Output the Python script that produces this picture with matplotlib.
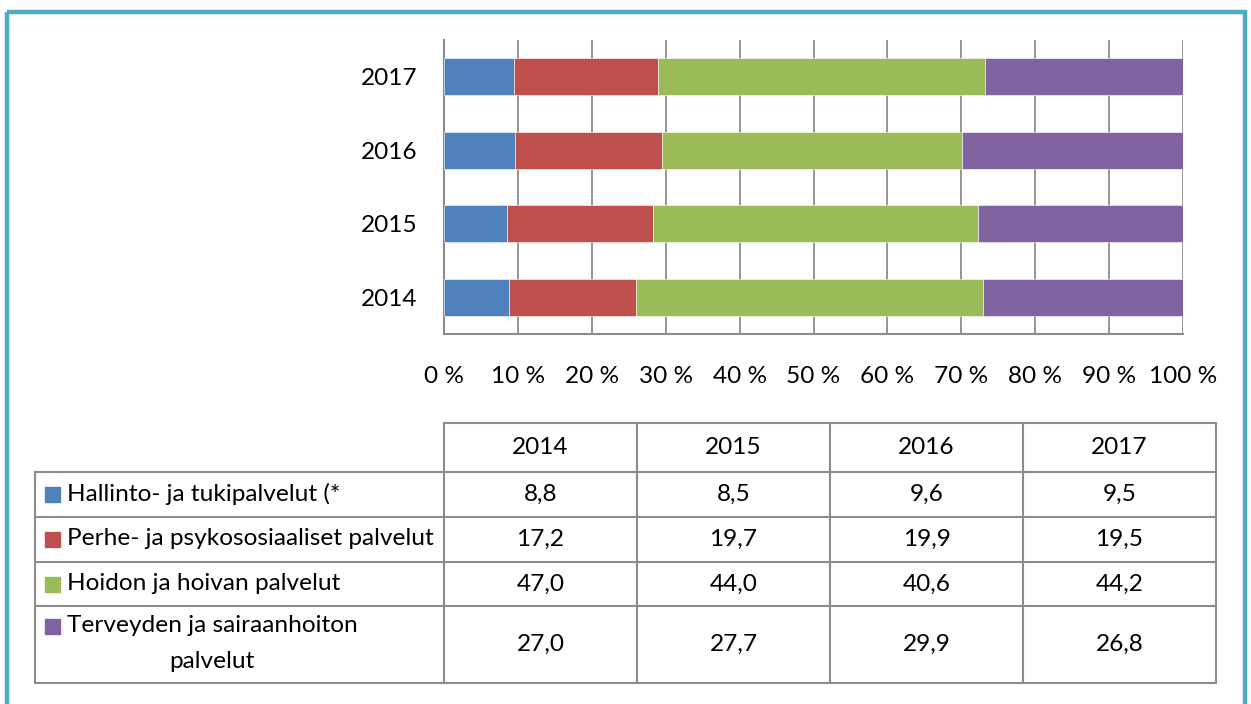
import numpy as np
import matplotlib.pyplot as plt
from matplotlib.patches import Rectangle

# Data
years = ['2014', '2015', '2016', '2017']
series = ['Hallinto- ja tukipalvelut (*',
          'Perhe- ja psykososiaaliset palvelut',
          'Hoidon ja hoivan palvelut',
          'Terveyden ja sairaanhoiton\npalvelut']
hallinto = [8.8, 8.5, 9.6, 9.5]
perhe = [17.2, 19.7, 19.9, 19.5]
hoidon = [47.0, 44.0, 40.6, 44.2]
terveys = [27.0, 27.7, 29.9, 26.8]
colors = ['#4F81BD', '#C0504D', '#9BBB59', '#8064A2']

plt.rcParams['font.family'] = ['Lato', 'DejaVu Sans']
FS = 17.6

W, H = 1251, 704
fig = plt.figure(figsize=(W / 100, H / 100), dpi=100)

# background axes in pixel coordinates (frame + table)
bg = fig.add_axes([0, 0, 1, 1])
bg.set_xlim(0, W)
bg.set_ylim(H, 0)
bg.axis('off')
bg.add_patch(Rectangle((7, 12), 1238, 720, fill=False, edgecolor='#4BACC6', linewidth=3.2))

# bar chart
ax = fig.add_axes([444 / W, 1 - 334 / H, (1183 - 444) / W, (334 - 40) / H])
data = np.array([hallinto, perhe, hoidon, terveys])
pct = data / data.sum(axis=0) * 100
y = np.arange(len(years))
left = np.zeros(len(years))
for vals, c in zip(pct, colors):
    ax.barh(y, vals, left=left, height=0.5, color=c, edgecolor='white', linewidth=0.4, zorder=3)
    left += vals
ax.set_xlim(0, 100)
ax.set_ylim(-0.5, len(years) - 0.5)
ax.set_xticks(np.arange(0, 101, 10))
ax.set_xticklabels(['%d %%' % v for v in range(0, 101, 10)], fontsize=FS)
ax.set_yticks(y)
ax.set_yticklabels(years, fontsize=FS)
ax.tick_params(axis='x', length=0, pad=23)
ax.tick_params(axis='y', length=0, pad=19)
ax.grid(axis='x', color='#8C8C8C', linewidth=1.3, zorder=0)
for s in ['top', 'right']:
    ax.spines[s].set_visible(False)
for s in ['left', 'bottom']:
    ax.spines[s].set_color('#8C8C8C')
    ax.spines[s].set_linewidth(1.5)

# data table
col_x = [35, 444, 637, 830, 1023, 1216]
row_y = [423, 472, 517, 562, 606, 683]
lc = '#8C8C8C'
lw = 1.5
# header row (no label cell)
bg.plot([col_x[1], col_x[-1]], [row_y[0], row_y[0]], color=lc, lw=lw)
for yy in row_y[1:]:
    bg.plot([col_x[0], col_x[-1]], [yy, yy], color=lc, lw=lw)
bg.plot([col_x[0], col_x[0]], [row_y[1], row_y[-1]], color=lc, lw=lw)
for xx in col_x[1:]:
    bg.plot([xx, xx], [row_y[0], row_y[-1]], color=lc, lw=lw)

for j, yr in enumerate(years):
    cx = (col_x[j + 1] + col_x[j + 2]) / 2
    bg.text(cx, (row_y[0] + row_y[1]) / 2, yr, ha='center', va='center', fontsize=FS)

for i, (name, vals, c) in enumerate(zip(series, data, colors)):
    cy = (row_y[i + 1] + row_y[i + 2]) / 2
    sy = cy - 18 if '\n' in name else cy
    bg.add_patch(Rectangle((45, sy - 7.5), 15, 15, color=c))
    bg.text(67, cy - 1, name, ha='left', va='center', fontsize=FS, multialignment='center',
            linespacing=1.85)
    for j, v in enumerate(vals):
        cx = (col_x[j + 1] + col_x[j + 2]) / 2
        bg.text(cx, cy, ('%.1f' % v).replace('.', ','), ha='center', va='center', fontsize=FS)

fig.savefig('out.png', dpi=100)
